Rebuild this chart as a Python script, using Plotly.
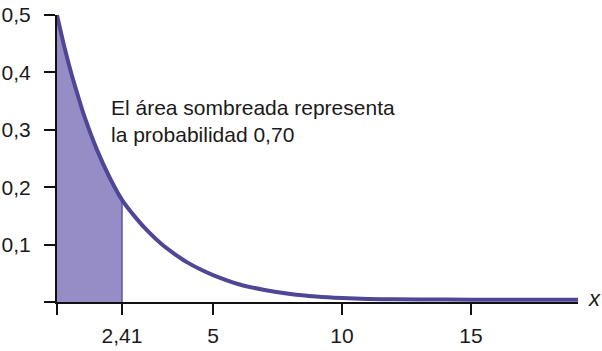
import plotly.graph_objects as go

# Curve (x in axis units, y = density)
curve_x = [-1.05, -0.8, -0.5, -0.25, 0.0, 0.5, 1.0, 1.47, 2.0, 2.5, 3.0, 3.5, 4.0, 4.5,
           5.0, 6.0, 7.0, 8.0, 9.0, 10.0, 11.0, 12.0, 14.0, 16.0, 19.15]
curve_y = [0.5, 0.451, 0.399, 0.361, 0.325, 0.265, 0.216, 0.178, 0.147, 0.122, 0.101,
           0.084, 0.069, 0.057, 0.047, 0.031, 0.021, 0.014, 0.0095, 0.0068, 0.0053,
           0.0046, 0.0042, 0.004, 0.004]

cut_x = 1.47          # position of the 2,41 boundary
x_tick_vals = [-1.05, 1.47, 5, 10, 15]
x_tick_text = ["", "2,41", "5", "10", "15"]
y_tick_vals = [0, 0.1, 0.2, 0.3, 0.4, 0.5]
y_tick_text = ["", "0,1", "0,2", "0,3", "0,4", "0,5"]
note = "El área sombreada representa<br>la probabilidad 0,70"

LINE = "#4f4696"
FILL = "#968dc7"
TXT = "#1a1a1a"
FONT = "Liberation Sans, Arial, sans-serif"

shade_x = [x for x in curve_x if x <= cut_x]
shade_y = curve_y[:len(shade_x)]
cut_y = shade_y[-1]

fig = go.Figure()
fig.add_trace(go.Scatter(x=shade_x, y=shade_y, mode="lines", fill="tozeroy",
                         fillcolor=FILL,
                         line=dict(width=0, shape="spline", smoothing=0.7, color=FILL),
                         hoverinfo="skip", showlegend=False))
fig.add_trace(go.Scatter(x=[cut_x, cut_x], y=[0, cut_y], mode="lines",
                         line=dict(color="#5d54a3", width=1.5), showlegend=False))
fig.add_trace(go.Scatter(x=curve_x, y=curve_y, mode="lines",
                         line=dict(color=LINE, width=4, shape="spline", smoothing=0.7),
                         showlegend=False))

fig.add_annotation(x=0.95, y=0.316, xref="x", yref="y", text=note, showarrow=False,
                   xanchor="left", yanchor="middle", align="left",
                   font=dict(family=FONT, size=21, color=TXT))
fig.add_annotation(x=1, y=0, xref="paper", yref="y", text="<i>x</i>", showarrow=False,
                   xanchor="left", yanchor="middle", xshift=8, yshift=4,
                   font=dict(family=FONT, size=22, color=TXT))

fig.update_layout(
    width=602, height=351,
    margin=dict(l=57, r=24, t=15, b=49),
    paper_bgcolor="white", plot_bgcolor="white",
    font=dict(family=FONT, size=21, color=TXT),
    xaxis=dict(range=[-1.05, 19.15], showgrid=False, zeroline=False, automargin=False,
               showline=True, linecolor="#111111", linewidth=2,
               ticks="outside", ticklen=11, tickwidth=2, tickcolor="#111111",
               tickvals=x_tick_vals, ticktext=x_tick_text, ticklabelstandoff=3,
               tickfont=dict(family=FONT, size=21, color=TXT)),
    yaxis=dict(range=[0, 0.5], showgrid=False, zeroline=False, automargin=False,
               showline=True, linecolor="#111111", linewidth=2,
               ticks="outside", ticklen=11, tickwidth=2, tickcolor="#111111",
               tickvals=y_tick_vals, ticktext=y_tick_text, ticklabelstandoff=9,
               tickfont=dict(family=FONT, size=21, color=TXT)),
)

fig.write_html("out.html")
